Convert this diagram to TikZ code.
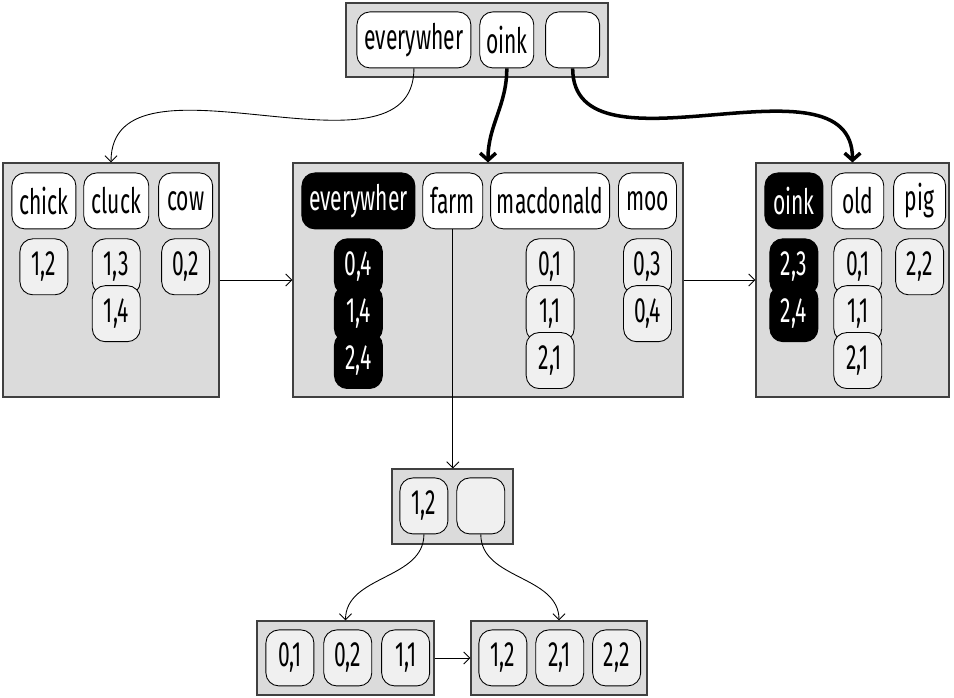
\documentclass[tikz,border=0pt]{standalone}
\usepackage{fontspec}
\setmainfont{Fira Sans}[FakeStretch=0.6]
\usetikzlibrary{positioning, calc, arrows.meta}

\begin{document}
\begin{tikzpicture}[node distance=0.16cm, every node/.style={font=\fontsize{20}{22}\selectfont}]
  \tikzstyle{page}=[rectangle, draw=black!75, fill=black!14, line width=0.6pt]
  \tikzstyle{word}=[rectangle, rounded corners=0.26cm, draw, fill=white, minimum height=1.12cm, inner xsep=0.05cm, line width=0.5pt]
  \tikzstyle{post}=[word, fill=black!6, minimum width=0.96cm]
  \tikzstyle{hit}=[fill=black, text=white]
  \tikzstyle{link}=[line width=0.5pt, -{Straight Barb[length=3.5pt, width=7pt]}]
  \tikzstyle{bold link}=[line width=2pt, -{Straight Barb[length=4pt, width=9pt]}]
  \useasboundingbox (0,0) rectangle (19.08,-13.94);

  % pages
  \node[page, minimum width=5.24cm, minimum height=1.48cm] (root) at (9.54,-0.8) {};
  \node[page, minimum width=4.32cm, minimum height=4.68cm] (left) at (2.22,-5.6) {};
  \node[page, minimum width=7.8cm, minimum height=4.68cm] (mid) at (9.76,-5.6) {};
  \node[page, minimum width=3.86cm, minimum height=4.68cm] (right) at (17.05,-5.6) {};
  \node[page, minimum width=2.42cm, minimum height=1.5cm] (sub) at (9.05,-10.13) {};
  \node[page, minimum width=3.54cm, minimum height=1.48cm] (leafa) at (6.91,-13.16) {};
  \node[page, minimum width=3.52cm, minimum height=1.48cm] (leafb) at (11.18,-13.16) {};

  % root page
  \node[word, minimum width=2.28cm, below right=0.18cm and 0.22cm of root.north west] (rtevery) {everywher};
  \node[word, minimum width=1.08cm, right=of rtevery] (rtoink) {oink};
  \node[word, minimum width=1.08cm, right=0.22cm of rtoink] (rtempty) {};

  % left page
  \node[word, minimum width=1.28cm, below right=0.2cm and 0.18cm of left.north west] (chick) {chick};
  \node[word, minimum width=1.3cm, right=0.14cm of chick] (cluck) {cluck};
  \node[word, minimum width=1.08cm, right=0.18cm of cluck] (cow) {cow};
  \node[post, below=0.18cm of chick] (chickA) {1,2};
  \node[post, below=0.18cm of cluck] (cluckA) {1,3};
  \node[post, below=-0.2cm of cluckA] (cluckB) {1,4};
  \node[post, below=0.18cm of cow] (cowA) {0,2};

  % middle page
  \node[word, hit, minimum width=2.26cm, below right=0.2cm and 0.18cm of mid.north west] (every) {everywher};
  \node[word, minimum width=1.2cm, right=0.14cm of every] (farm) {farm};
  \node[word, minimum width=2.38cm, right=0.14cm of farm] (macdonald) {macdonald};
  \node[word, minimum width=1.16cm, right=of macdonald] (moo) {moo};
  \node[post, hit, below=0.18cm of every] (everyA) {0,4};
  \node[post, hit, below=-0.2cm of everyA] (everyB) {1,4};
  \node[post, hit, below=-0.2cm of everyB] (everyC) {2,4};
  \node[post, below=0.18cm of macdonald] (macA) {0,1};
  \node[post, below=-0.2cm of macA] (macB) {1,1};
  \node[post, below=-0.2cm of macB] (macC) {2,1};
  \node[post, below=0.18cm of moo] (mooA) {0,3};
  \node[post, below=-0.2cm of mooA] (mooB) {0,4};

  % right page
  \node[word, hit, minimum width=1.16cm, below right=0.2cm and 0.18cm of right.north west] (oink) {oink};
  \node[word, minimum width=1.04cm, right=of oink] (old) {old};
  \node[word, minimum width=1.04cm, right=0.18cm of old] (pig) {pig};
  \node[post, hit, below=0.18cm of oink] (oinkA) {2,3};
  \node[post, hit, below=-0.2cm of oinkA] (oinkB) {2,4};
  \node[post, below=0.18cm of old] (oldA) {0,1};
  \node[post, below=-0.2cm of oldA] (oldB) {1,1};
  \node[post, below=-0.2cm of oldB] (oldC) {2,1};
  \node[post, below=0.18cm of pig] (pigA) {2,2};

  % farm subtree
  \node[post, below right=0.18cm and 0.16cm of sub.north west] (subA) {1,2};
  \node[post, right=0.16cm of subA] (subB) {};
  \node[post, below right=0.18cm and 0.18cm of leafa.north west] (leafaA) {0,1};
  \node[post, right=0.18cm of leafaA] (leafaB) {0,2};
  \node[post, right=0.18cm of leafaB] (leafaC) {1,1};
  \node[post, below right=0.18cm and 0.16cm of leafb.north west] (leafbA) {1,2};
  \node[post, right=0.16cm of leafbA] (leafbB) {2,1};
  \node[post, right=0.16cm of leafbB] (leafbC) {2,2};

  % links
  \draw[link] (rtevery.south) to[out=-90, in=90] (left.north);
  \draw[bold link] (rtoink.south) to[out=-90, in=90] (mid.north);
  \draw[bold link] (rtempty.south) to[out=-90, in=90] (right.north);
  \draw[link] (left.east) -- (mid.west);
  \draw[link] (mid.east) -- (right.west);
  \draw[link] (farm.south) -- (farm.south |- sub.north);
  \draw[link] (subA.south) to[out=-90, in=90] (leafa.north);
  \draw[link] (subB.south) to[out=-90, in=90] (leafb.north);
  \draw[link] (leafa.east) -- (leafb.west);
\end{tikzpicture}
\end{document}
